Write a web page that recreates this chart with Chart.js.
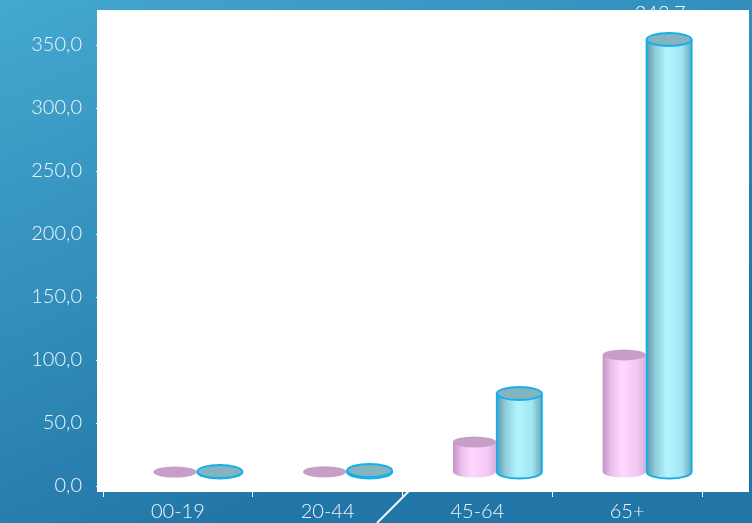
<!DOCTYPE html>
<html>
<head>
<meta charset="utf-8">
<script src="https://cdn.jsdelivr.net/npm/chart.js@4"></script>
<style>
  html, body { margin: 0; padding: 0; background: #2a86b6; }
  canvas { display: block; }
</style>
</head>
<body>
<canvas id="chart" width="752" height="523"></canvas>
<script>
// data
const categories = ["00-19", "20-44", "45-64", "65+"];
const pinkValues = [0.4, 0.6, 24.2, 93.3];
const blueValues = [0.8, 1.5, 62.7, 343.7];
const yTicks = [0, 50, 100, 150, 200, 250, 300, 350];

// ---------------------
// cylinder helpers
// ---------------------

const DEPTH_X = 19.5;
const DEPTH_Y = -13.5;

function fmt(v){
    return v.toFixed(1).replace(".", ",");
}

function cylinder(ctx, cx, topY, baseY, w, ry, stops, topColor, stroke){
    const left = cx - w / 2;
    const right = cx + w / 2;

    const grad = ctx.createLinearGradient(left, 0, right, 0);
    stops.forEach(s => grad.addColorStop(s[0], s[1]));

    ctx.save();

    // body
    ctx.beginPath();
    ctx.moveTo(left, topY);
    ctx.lineTo(left, baseY);
    ctx.ellipse(cx, baseY, w / 2, ry, 0, Math.PI, 0, true);
    ctx.lineTo(right, topY);
    ctx.closePath();
    ctx.fillStyle = grad;
    ctx.fill();

    if (stroke) {
        ctx.strokeStyle = stroke;
        ctx.lineWidth = 2;
        ctx.beginPath();
        ctx.moveTo(left, topY);
        ctx.lineTo(left, baseY);
        ctx.ellipse(cx, baseY, w / 2, ry, 0, Math.PI, 0, true);
        ctx.lineTo(right, topY);
        ctx.stroke();
    }

    // top
    ctx.beginPath();
    ctx.ellipse(cx, topY, w / 2, ry, 0, 0, Math.PI * 2);
    ctx.fillStyle = topColor;
    ctx.fill();
    if (stroke) {
        ctx.strokeStyle = stroke;
        ctx.lineWidth = 2;
        ctx.stroke();
    }

    ctx.restore();
}

const pinkStops = [
    [0, "#c394c3"], [0.2, "#ecbeec"], [0.45, "#ffd8ff"], [0.8, "#f3c8f3"], [1, "#dcaedc"]
];
const blueStops = [
    [0, "#5c9aac"], [0.18, "#8ccad8"], [0.45, "#b4f4ff"], [0.78, "#a2e6f2"], [1, "#6ea8b8"]
];

// ---------------------
// background + plot wall
// ---------------------

const backdrop = {
    id: "backdrop",
    beforeDraw(chart){
        const ctx = chart.ctx;
        const W = chart.width, H = chart.height;
        const area = chart.chartArea;

        const bg = ctx.createLinearGradient(0, 0, W * 0.3, H);
        bg.addColorStop(0, "#44a8d0");
        bg.addColorStop(1, "#2276a7");
        ctx.fillStyle = bg;
        ctx.fillRect(0, 0, W, H);

        // slide decoration
        ctx.strokeStyle = "rgba(255,255,255,0.95)";
        ctx.lineWidth = 2;
        ctx.beginPath();
        ctx.moveTo(377, H);
        ctx.lineTo(410, area.bottom + 4);
        ctx.stroke();

        // value label for the tall bar (mostly hidden behind the wall)
        const meta = chart.getDatasetMeta(1);
        const bar = meta.data[3];
        ctx.fillStyle = "#ffffff";
        ctx.font = "300 20px Lato";
        ctx.textAlign = "center";
        ctx.textBaseline = "top";
        ctx.fillText(fmt(blueValues[3]), bar.x + DEPTH_X - 9, bar.y + DEPTH_Y - 36);

        // white wall
        ctx.fillStyle = "#ffffff";
        ctx.fillRect(area.left - 6, 10, W - 3 - (area.left - 6), area.bottom + 6 - 10);
    }
};

const cylinders = {
    id: "cylinders",
    afterDatasetsDraw(chart){
        const ctx = chart.ctx;
        [0, 1].forEach(i => {
            const meta = chart.getDatasetMeta(i);
            meta.data.forEach(bar => {
                const p = bar.getProps(["x", "y", "base", "width"], true);
                const cx = p.x + DEPTH_X;
                const top = p.y + DEPTH_Y;
                const base = p.base + DEPTH_Y;
                if (i === 0) {
                    cylinder(ctx, cx, top, base, p.width - 2, 5.5, pinkStops, "#c69ec6", null);
                } else {
                    cylinder(ctx, cx, top, base, p.width, 6.5, blueStops, "#84b4c0", "#14b0ea");
                }
            });
        });
    }
};

new Chart(
    document.getElementById("chart"),
    {
        type: "bar",
        data: {
            labels: categories,
            datasets: [
                {
                    label: "A",
                    data: pinkValues,
                    backgroundColor: "rgba(0,0,0,0)",
                    borderWidth: 0
                },
                {
                    label: "B",
                    data: blueValues,
                    backgroundColor: "rgba(0,0,0,0)",
                    borderWidth: 0
                }
            ]
        },
        options: {
            responsive: false,
            animation: false,
            events: [],
            layout: { padding: { top: 45, right: 50, left: 0, bottom: 0 } },
            datasets: { bar: { categoryPercentage: 0.6, barPercentage: 1.0 } },
            plugins: {
                legend: { display: false },
                tooltip: { enabled: false }
            },
            scales: {
                x: {
                    afterFit(scale){ scale.height = 37; },
                    border: { display: false },
                    grid: {
                        drawOnChartArea: false,
                        color: "#ffffff",
                        tickLength: 11,
                        lineWidth: 1
                    },
                    ticks: {
                        color: "#f2f6fa",
                        font: { family: "Lato", size: 20, weight: 300 },
                        padding: 3
                    }
                },
                y: {
                    min: 0,
                    max: 350,
                    afterFit(scale){ scale.width = 103; },
                    afterBuildTicks(scale){ scale.ticks = yTicks.map(v => ({ value: v })); },
                    border: { display: false },
                    grid: {
                        drawOnChartArea: false,
                        color: "#ffffff",
                        tickLength: 7,
                        lineWidth: 1
                    },
                    ticks: {
                        color: "#f2f6fa",
                        font: { family: "Lato", size: 20, weight: 300 },
                        padding: 14,
                        callback: v => fmt(v)
                    }
                }
            }
        },
        plugins: [backdrop, cylinders]
    }
);
</script>
</body>
</html>
